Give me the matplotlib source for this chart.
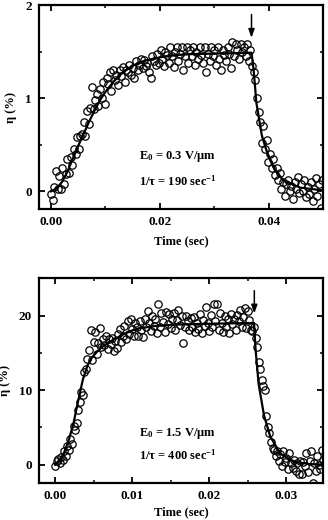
import matplotlib
matplotlib.use("Agg")
import matplotlib.pyplot as plt
from matplotlib.ticker import MultipleLocator, FormatStrFormatter

plt.rcParams['font.family'] = ['Liberation Serif', 'DejaVu Serif']
plt.rcParams['font.weight'] = 'bold'
plt.rcParams['mathtext.default'] = 'regular'

# ---------------- Top panel (E0 = 0.3 V/um) ----------------
top_t = [0.0000, 0.0003, 0.0006, 0.0009, 0.0012, 0.0015, 0.0018, 0.0021, 0.0024, 0.0027,
         0.0030, 0.0033, 0.0036, 0.0039, 0.0042, 0.0045, 0.0048, 0.0051, 0.0054, 0.0057,
         0.0060, 0.0063, 0.0066, 0.0069, 0.0072, 0.0075, 0.0078, 0.0081, 0.0084, 0.0087,
         0.0090, 0.0093, 0.0096, 0.0099, 0.0102, 0.0105, 0.0108, 0.0111, 0.0114, 0.0117,
         0.0120, 0.0123, 0.0126, 0.0129, 0.0132, 0.0135, 0.0138, 0.0141, 0.0144, 0.0147,
         0.0150, 0.0153, 0.0156, 0.0159, 0.0162, 0.0165, 0.0168, 0.0171, 0.0174, 0.0177,
         0.0180, 0.0183, 0.0186, 0.0189, 0.0192, 0.0195, 0.0198, 0.0201, 0.0204, 0.0207,
         0.0210, 0.0213, 0.0216, 0.0219, 0.0222, 0.0225, 0.0228, 0.0231, 0.0234, 0.0237,
         0.0240, 0.0243, 0.0246, 0.0249, 0.0252, 0.0255, 0.0258, 0.0261, 0.0264, 0.0267,
         0.0270, 0.0273, 0.0276, 0.0279, 0.0282, 0.0285, 0.0288, 0.0291, 0.0294, 0.0297,
         0.0300, 0.0303, 0.0306, 0.0309, 0.0312, 0.0315, 0.0318, 0.0321, 0.0324, 0.0327,
         0.0330, 0.0333, 0.0336, 0.0339, 0.0342, 0.0345, 0.0348, 0.0351, 0.0354, 0.0357,
         0.0360, 0.0363, 0.0366, 0.0369, 0.0372, 0.0375, 0.0378, 0.0381, 0.0384, 0.0387,
         0.0390, 0.0393, 0.0396, 0.0399, 0.0402, 0.0405, 0.0408, 0.0411, 0.0414, 0.0417,
         0.0420, 0.0423, 0.0426, 0.0429, 0.0432, 0.0435, 0.0438, 0.0441, 0.0444, 0.0447,
         0.0450, 0.0453, 0.0456, 0.0459, 0.0462, 0.0465, 0.0468, 0.0471, 0.0474, 0.0477,
         0.0480, 0.0483, 0.0486, 0.0489, 0.0492, 0.0495, 0.0498]
top_eta = [-0.03, -0.09, 0.05, 0.22, 0.02, 0.16, 0.03, 0.25, 0.08, 0.19,
           0.35, 0.20, 0.37, 0.28, 0.45, 0.40, 0.58, 0.45, 0.60, 0.62,
           0.74, 0.60, 0.86, 0.72, 0.90, 1.12, 0.88, 0.98, 1.05, 0.92,
           1.10, 1.00, 1.18, 0.94, 1.22, 1.15, 1.28, 1.08, 1.30, 1.20,
           1.25, 1.14, 1.30, 1.24, 1.34, 1.18, 1.30, 1.28, 1.36, 1.25,
           1.32, 1.22, 1.40, 1.30, 1.36, 1.42, 1.33, 1.41, 1.35, 1.38,
           1.28, 1.22, 1.45, 1.40, 1.36, 1.48, 1.38, 1.52, 1.42, 1.35,
           1.50, 1.46, 1.38, 1.55, 1.45, 1.34, 1.50, 1.55, 1.40, 1.48,
           1.55, 1.30, 1.45, 1.55, 1.38, 1.52, 1.45, 1.55, 1.36, 1.50,
           1.42, 1.55, 1.46, 1.38, 1.55, 1.28, 1.48, 1.40, 1.55, 1.45,
           1.52, 1.36, 1.55, 1.42, 1.30, 1.52, 1.46, 1.40, 1.55, 1.48,
           1.32, 1.60, 1.45, 1.58, 1.52, 1.42, 1.58, 1.50, 1.55, 1.45,
           1.58, 1.40, 1.52, 1.35, 1.28, 1.20, 1.00, 0.85, 0.75, 0.52,
           0.70, 0.45, 0.55, 0.32, 0.40, 0.25, 0.35, 0.18, 0.25, 0.12,
           0.20, 0.02, 0.10, -0.05, 0.08, 0.12, 0.00, 0.06, -0.08, 0.10,
           0.02, 0.15, -0.02, 0.08, 0.00, 0.12, -0.06, 0.05, -0.03, 0.10,
           -0.10, 0.02, 0.14, -0.05, 0.08, -0.18, 0.12]

top_fit_t = [0.0000, 0.0010, 0.0020, 0.0030, 0.0040, 0.0050, 0.0060, 0.0070, 0.0080, 0.0090,
             0.0100, 0.0115, 0.0130, 0.0150, 0.0170, 0.0200, 0.0230, 0.0260, 0.0300, 0.0340,
             0.0368, 0.0372, 0.0377, 0.0387, 0.0396, 0.0408, 0.0426, 0.0457, 0.0500]
top_fit_eta = [0.00, 0.03, 0.10, 0.21, 0.35, 0.49, 0.62, 0.75, 0.87, 0.98,
               1.07, 1.18, 1.27, 1.35, 1.40, 1.44, 1.465, 1.475, 1.48, 1.485,
               1.49, 1.30, 0.95, 0.60, 0.43, 0.26, 0.12, 0.04, 0.01]

top_xticks = [0.00, 0.02, 0.04]
top_yticks = [0, 1, 2]
top_arrow_t = 0.0368
top_arrow_eta = (1.93, 1.62)
top_text = ['E$_0$ = 0.3 V/μm', '1/τ = 190 sec$^{-1}$']

# ---------------- Bottom panel (E0 = 1.5 V/um) ----------------
bot_t = [0.0000, 0.0002, 0.0004, 0.0006, 0.0008, 0.0010, 0.0012, 0.0014, 0.0016, 0.0018,
         0.0020, 0.0022, 0.0024, 0.0026, 0.0028, 0.0030, 0.0032, 0.0034, 0.0036, 0.0038,
         0.0040, 0.0042, 0.0044, 0.0046, 0.0048, 0.0050, 0.0052, 0.0054, 0.0056, 0.0058,
         0.0060, 0.0062, 0.0064, 0.0066, 0.0068, 0.0070, 0.0072, 0.0074, 0.0076, 0.0078,
         0.0080, 0.0082, 0.0084, 0.0086, 0.0088, 0.0090, 0.0092, 0.0094, 0.0096, 0.0098,
         0.0100, 0.0102, 0.0104, 0.0106, 0.0108, 0.0110, 0.0112, 0.0114, 0.0116, 0.0118,
         0.0120, 0.0122, 0.0124, 0.0126, 0.0128, 0.0130, 0.0132, 0.0134, 0.0136, 0.0138,
         0.0140, 0.0142, 0.0144, 0.0146, 0.0148, 0.0150, 0.0152, 0.0154, 0.0156, 0.0158,
         0.0160, 0.0162, 0.0164, 0.0166, 0.0168, 0.0170, 0.0172, 0.0174, 0.0176, 0.0178,
         0.0180, 0.0182, 0.0184, 0.0186, 0.0188, 0.0190, 0.0192, 0.0194, 0.0196, 0.0198,
         0.0200, 0.0202, 0.0204, 0.0206, 0.0208, 0.0210, 0.0212, 0.0214, 0.0216, 0.0218,
         0.0220, 0.0222, 0.0224, 0.0226, 0.0228, 0.0230, 0.0232, 0.0234, 0.0236, 0.0238,
         0.0240, 0.0242, 0.0244, 0.0246, 0.0248, 0.0250, 0.0252, 0.0254, 0.0256, 0.0258,
         0.0260, 0.0262, 0.0264, 0.0266, 0.0268, 0.0270, 0.0272, 0.0274, 0.0276, 0.0278,
         0.0280, 0.0282, 0.0284, 0.0286, 0.0288, 0.0290, 0.0292, 0.0294, 0.0296, 0.0298,
         0.0300, 0.0302, 0.0304, 0.0306, 0.0308, 0.0310, 0.0312, 0.0314, 0.0316, 0.0318,
         0.0320, 0.0322, 0.0324, 0.0326, 0.0328, 0.0330, 0.0332, 0.0334, 0.0336, 0.0338,
         0.0340, 0.0342, 0.0344, 0.0346, 0.0348]
bot_eta = [-0.2, 0.5, 0.8, 0.3, 1.0, 0.6, 1.8, 1.2, 2.5, 2.0,
           3.4, 2.8, 5.2, 4.6, 5.6, 7.3, 8.4, 9.8, 9.4, 12.4,
           12.8, 14.2, 15.4, 18.0, 14.0, 16.5, 17.8, 14.9, 16.3, 18.3,
           15.8, 16.9, 16.0, 17.3, 15.5, 16.8, 16.2, 17.0, 15.3, 16.6,
           15.7, 17.5, 18.2, 16.5, 17.3, 18.6, 16.8, 19.2, 17.5, 19.5,
           18.2, 17.2, 19.0, 18.4, 17.3, 19.3, 18.0, 17.1, 19.6, 18.5,
           20.6, 19.0, 17.9, 20.0, 18.6, 19.5, 17.6, 21.5, 18.4, 20.3,
           19.1, 17.8, 20.5, 18.9, 20.2, 18.3, 19.6, 20.4, 18.1, 19.4,
           20.7, 18.7, 19.9, 16.3, 18.5, 20.0, 19.2, 18.0, 19.7, 18.4,
           19.8, 17.8, 19.0, 18.2, 20.2, 17.7, 19.4, 18.6, 21.2, 19.0,
           17.9, 20.1, 18.4, 21.5, 19.3, 21.6, 18.0, 20.3, 19.0, 17.8,
           20.0, 18.5, 19.6, 17.7, 20.2, 18.8, 19.5, 18.1, 20.1, 19.2,
           20.8, 18.4, 19.8, 21.0, 18.3, 20.6, 19.4, 18.1, 17.9, 18.4,
           17.0, 15.8, 13.8, 12.8, 11.4, 10.6, 10.0, 6.6, 5.0, 4.2,
           3.1, 2.3, 2.0, 1.2, 1.8, 0.5, 1.5, -0.1, 1.8, 0.4,
           0.9, -0.5, 1.6, 0.2, -0.4, 0.6, -0.8, 0.3, -1.3, 0.5,
           -1.2, 0.4, -0.2, 1.6, -1.0, 0.5, 1.8, -2.4, 0.3, -0.8,
           1.2, 0.0, -0.5, 2.0, 0.6]

bot_fit_t = [0.0000, 0.0006, 0.0012, 0.0018, 0.0024, 0.0030, 0.0036, 0.0042, 0.0048, 0.0054,
             0.0060, 0.0067, 0.0078, 0.0089, 0.0100, 0.0110, 0.0130, 0.0160, 0.0200, 0.0258,
             0.0260, 0.0264, 0.0271, 0.0279, 0.0292, 0.0309, 0.0330, 0.0350]
bot_fit_eta = [0.0, 0.6, 1.7, 3.4, 5.6, 8.6, 11.4, 13.3, 14.4, 15.1,
               15.7, 16.2, 16.9, 17.5, 18.0, 18.3, 18.6, 18.8, 18.9, 19.0,
               15.5, 10.8, 6.6, 3.8, 1.5, 0.4, 0.1, 0.0]

bot_xticks = [0.00, 0.01, 0.02, 0.03]
bot_yticks = [0, 10, 20]
bot_arrow_t = 0.02584
bot_arrow_eta = (23.7, 19.9)
bot_text = ['E$_0$ = 1.5 V/μm', '1/τ = 400 sec$^{-1}$']

FS = 9
TFS = 9.5

fig = plt.figure(figsize=(3.28, 5.20), dpi=100)
ax1 = fig.add_axes([0.119, 0.598, 0.867, 0.392])
ax2 = fig.add_axes([0.119, 0.071, 0.867, 0.394])


def style(ax, xticks, xminor, yticks, yminor, xfmt, yfmt, xpad):
    ax.set_xticks(xticks)
    ax.set_yticks(yticks)
    ax.xaxis.set_minor_locator(MultipleLocator(xminor))
    ax.yaxis.set_minor_locator(MultipleLocator(yminor))
    ax.xaxis.set_major_formatter(FormatStrFormatter(xfmt))
    ax.yaxis.set_major_formatter(FormatStrFormatter(yfmt))
    ax.tick_params(which='both', direction='in', top=True, right=True)
    ax.tick_params(which='major', length=4, width=1.3, labelsize=TFS, pad=5)
    ax.tick_params(which='minor', length=2.5, width=1.1)
    for s in ax.spines.values():
        s.set_linewidth(1.6)
    for lab in ax.get_xticklabels() + ax.get_yticklabels():
        lab.set_fontweight('bold')
    ax.set_xlabel('Time (sec)', fontsize=FS, fontweight='bold', labelpad=xpad)
    ax.set_ylabel('η (%)', fontsize=FS, fontweight='bold', labelpad=6)


def panel(ax, t, eta, ft, feta, arrow_t, arrow_eta, texts, text_x, text_y):
    ax.plot(ft, feta, color='black', lw=1.6, zorder=3)
    ax.plot(t, eta, linestyle='none', marker='o', ms=5.3, mfc='none',
            mec='black', mew=0.9, zorder=2)
    ax.annotate('', xy=(arrow_t, arrow_eta[1]), xytext=(arrow_t, arrow_eta[0]),
                arrowprops=dict(arrowstyle='-|>,head_length=0.5,head_width=0.18',
                                color='black', lw=1.1))
    ax.text(text_x, text_y[0], texts[0], fontsize=FS, fontweight='bold',
            ha='left', va='center')
    ax.text(text_x, text_y[1], texts[1], fontsize=FS, fontweight='bold',
            ha='left', va='center')


panel(ax1, top_t, top_eta, top_fit_t, top_fit_eta, top_arrow_t, top_arrow_eta,
      top_text, 0.0161, (0.375, 0.105))
ax1.set_xlim(-0.0022, 0.0500)
ax1.set_ylim(-0.19, 2.0)
style(ax1, top_xticks, 0.01, top_yticks, 0.5, '%.2f', '%d', 5)

panel(ax2, bot_t, bot_eta, bot_fit_t, bot_fit_eta, bot_arrow_t, bot_arrow_eta,
      bot_text, 0.0109, (4.25, 1.3))
ax2.set_xlim(-0.00208, 0.0348)
ax2.set_ylim(-2.45, 25.0)
style(ax2, bot_xticks, 0.005, bot_yticks, 5, '%.2f', '%d', 3)

fig.savefig('out.png', dpi=100)
